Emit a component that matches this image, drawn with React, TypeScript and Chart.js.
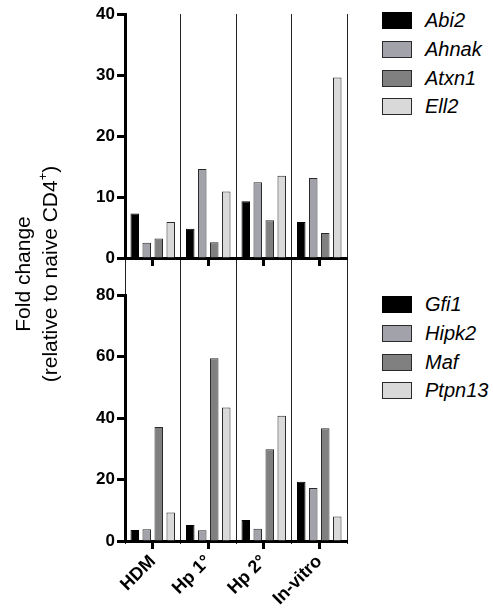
import React, { useEffect, useRef } from 'react';
import { Chart, registerables } from 'chart.js';

Chart.register(...registerables);

// ---- data ----
const categories = ['HDM', 'Hp 1°', 'Hp 2°', 'In-vitro'];

const topNames = ['Abi2', 'Ahnak', 'Atxn1', 'Ell2'];
const abi2 = [7.3, 4.8, 9.3, 5.9];
const ahnak = [2.5, 14.6, 12.4, 13.1];
const atxn1 = [3.2, 2.6, 6.2, 4.1];
const ell2 = [5.9, 10.9, 13.5, 29.6];

const bottomNames = ['Gfi1', 'Hipk2', 'Maf', 'Ptpn13'];
const gfi1 = [3.6, 5.2, 6.8, 19.3];
const hipk2 = [3.8, 3.5, 4.0, 17.2];
const maf = [37.1, 59.4, 29.8, 36.7];
const ptpn13 = [9.3, 43.4, 40.7, 8.0];

const topMax = 40;
const topStep = 10;
const bottomMax = 80;
const bottomStep = 20;

const yTitleLine1 = 'Fold change';
const yTitleLine2 = '(relative to naive CD4';

// ---- styles ----
const FAMILY = '"Liberation Sans", Arial, Helvetica, sans-serif';
const fills = ['#000000', '#a2a2aa', '#808080', '#d9d9d9'];
const borders = ['#000000', '#2a2a2a', '#2a2a2a', '#2a2a2a'];

type Layout = {
  padTop: number;
  xHeight: number;
  sepTop: number;
  sepBottom: number;
  showLabels: boolean;
};

function makeConfig(names: string[], series: number[][], yMax: number, step: number, lay: Layout): any {
  const tickFont = { family: FAMILY, size: 17, weight: 'bold' as const };
  const sepColor = (ctx: any) => (ctx.index === categories.length ? '#8a8a8a' : '#222222');
  const scales: any = {
    x: {
      type: 'category',
      position: 'bottom',
      offset: true,
      weight: 1,
      grid: {
        offset: false,
        drawOnChartArea: false,
        drawTicks: true,
        tickLength: 8,
        tickWidth: 3,
        tickColor: '#000',
      },
      border: { display: true, width: 3, color: '#000' },
      ticks: {
        display: lay.showLabels,
        minRotation: 45,
        maxRotation: 45,
        autoSkip: false,
        padding: 2,
        color: '#000',
        font: { family: FAMILY, size: 18, weight: 'bold' },
      },
      afterFit: (s: any) => {
        s.height = lay.xHeight;
      },
    },
    xSep: {
      type: 'category',
      position: 'bottom',
      offset: true,
      weight: 0,
      grid: {
        offset: true,
        drawOnChartArea: true,
        drawTicks: true,
        tickLength: lay.sepBottom,
        lineWidth: 1,
        tickWidth: 1,
        color: sepColor,
        tickColor: sepColor,
      },
      border: { display: false },
      ticks: { display: false },
      afterFit: (s: any) => {
        s.height = 0;
      },
    },
    y: {
      type: 'linear',
      position: 'left',
      min: 0,
      max: yMax,
      ticks: { stepSize: step, padding: 2, color: '#000', font: tickFont },
      grid: {
        drawOnChartArea: false,
        drawTicks: true,
        tickLength: 8,
        tickWidth: 3,
        tickColor: '#000',
      },
      border: { display: true, width: 3, color: '#000' },
      afterFit: (s: any) => {
        s.width = 125;
      },
    },
  };
  if (lay.sepTop > 0) {
    scales.xSepTop = {
      type: 'category',
      position: 'top',
      offset: true,
      grid: {
        offset: true,
        drawOnChartArea: false,
        drawTicks: true,
        tickLength: lay.sepTop,
        tickWidth: 1,
        tickColor: sepColor,
      },
      border: { display: false },
      ticks: { display: false },
      afterFit: (s: any) => {
        s.height = 0;
      },
    };
  }
  return {
    type: 'bar',
    data: {
      labels: categories,
      datasets: names.map((n, i) => ({
        label: n,
        data: series[i],
        backgroundColor: fills[i],
        borderColor: borders[i],
        borderWidth: 1,
        categoryPercentage: 0.865,
        barPercentage: 0.71,
        xAxisID: 'x',
        yAxisID: 'y',
      })),
    },
    options: {
      responsive: false,
      maintainAspectRatio: false,
      animation: false,
      devicePixelRatio: 1,
      layout: { padding: { top: lay.padTop, right: 13, bottom: 0, left: 0 } },
      plugins: { legend: { display: false }, tooltip: { enabled: false }, title: { display: false } },
      scales,
    },
  };
}

function Legend({ names, top }: { names: string[]; top: number }) {
  return (
    <div style={{ position: 'absolute', left: 382, top, width: 111 }}>
      {names.map((n, i) => (
        <div
          key={n}
          style={{ display: 'flex', alignItems: 'center', height: 17, marginBottom: i < names.length - 1 ? 11.8 : 0 }}
        >
          <span
            style={{
              display: 'inline-block',
              boxSizing: 'border-box',
              width: 30,
              height: 17,
              background: fills[i],
              border: `1px solid ${borders[i]}`,
            }}
          />
          <span
            style={{
              marginLeft: 13,
              fontFamily: FAMILY,
              fontStyle: 'italic',
              fontSize: 20,
              lineHeight: '17px',
              color: '#000',
              whiteSpace: 'nowrap',
            }}
          >
            {n}
          </span>
        </div>
      ))}
    </div>
  );
}

export default function App() {
  const topRef = useRef<HTMLCanvasElement | null>(null);
  const botRef = useRef<HTMLCanvasElement | null>(null);

  useEffect(() => {
    const c1 = new Chart(
      topRef.current as HTMLCanvasElement,
      makeConfig(topNames, [abi2, ahnak, atxn1, ell2], topMax, topStep, {
        padTop: 14,
        xHeight: 22,
        sepTop: 0,
        sepBottom: 22,
        showLabels: false,
      })
    );
    const c2 = new Chart(
      botRef.current as HTMLCanvasElement,
      makeConfig(bottomNames, [gfi1, hipk2, maf, ptpn13], bottomMax, bottomStep, {
        padTop: 15,
        xHeight: 68,
        sepTop: 15,
        sepBottom: 3,
        showLabels: true,
      })
    );
    return () => {
      c1.destroy();
      c2.destroy();
    };
  }, []);

  const titleW = 260;
  const titleH = 54;
  const titleCx = 35.5;
  const titleCy = 274;

  return (
    <div
      style={{
        position: 'absolute',
        left: 0,
        top: 0,
        width: 493,
        height: 609,
        background: '#fff',
        overflow: 'hidden',
      }}
    >
      <canvas ref={topRef} width={360} height={280} style={{ position: 'absolute', left: 0, top: 0 }} />
      <canvas ref={botRef} width={360} height={329} style={{ position: 'absolute', left: 0, top: 280 }} />
      <div
        style={{
          position: 'absolute',
          left: titleCx - titleW / 2,
          top: titleCy - titleH / 2,
          width: titleW,
          height: titleH,
          transform: 'rotate(-90deg)',
          textAlign: 'center',
          whiteSpace: 'nowrap',
          fontFamily: FAMILY,
          fontSize: 21,
          lineHeight: '27px',
          color: '#000',
        }}
      >
        <div>{yTitleLine1}</div>
        <div>
          {yTitleLine2}
          <sup style={{ fontSize: 13, verticalAlign: 'top', lineHeight: '14px' }}>+</sup>)
        </div>
      </div>
      <Legend names={topNames} top={12} />
      <Legend names={bottomNames} top={296} />
    </div>
  );
}
